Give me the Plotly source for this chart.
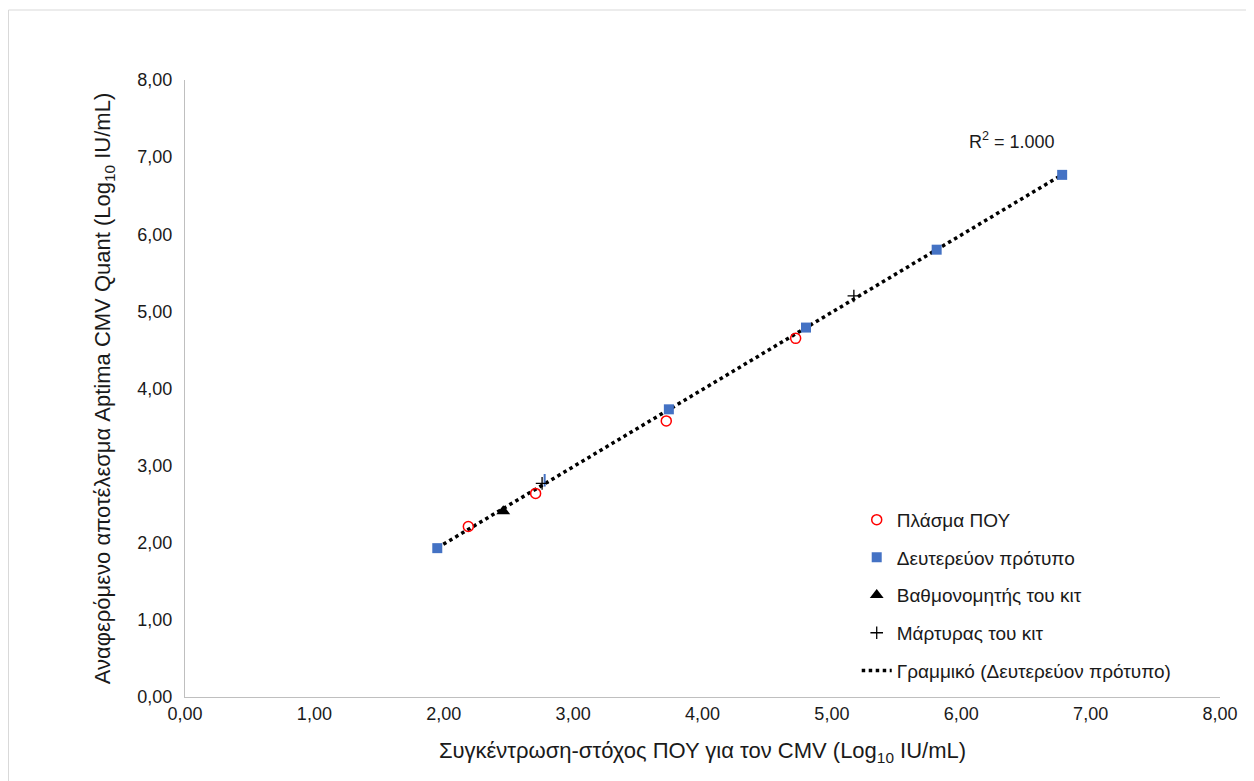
import numpy as np
import plotly.graph_objects as go

# Data
plasma_x = [2.19, 2.71, 3.72, 4.72]
plasma_y = [2.21, 2.64, 3.58, 4.65]

secondary_x = [1.95, 3.74, 4.80, 5.81, 6.78]
secondary_y = [1.93, 3.73, 4.79, 5.80, 6.77]

calibrator_x = [2.46]
calibrator_y = [2.41]

control_x = [2.76, 5.17]
control_y = [2.77, 5.20]

extra_blue_x = [2.78]
extra_blue_y = [2.81]

x_ticks = [0, 1, 2, 3, 4, 5, 6, 7, 8]
tick_labels = ["0,00", "1,00", "2,00", "3,00", "4,00", "5,00", "6,00", "7,00", "8,00"]

# Linear fit of secondary standard
slope, intercept = np.polyfit(secondary_x, secondary_y, 1)
fit_x = [min(secondary_x), max(secondary_x)]
fit_y = [slope * v + intercept for v in fit_x]

font_family = "Liberation Sans, Arial, sans-serif"
txt = "#1a1a1a"

fig = go.Figure()

fig.add_trace(go.Scatter(
    x=fit_x, y=fit_y, mode="lines",
    line=dict(color="black", width=3.5, dash="dot"),
    name="Γραμμικό (Δευτερεύον πρότυπο)", legendgroup="e", legendrank=5,
))
fig.add_trace(go.Scatter(
    x=extra_blue_x, y=extra_blue_y, mode="markers",
    marker=dict(symbol="line-ns", size=9, line=dict(color="#4472C4", width=2)),
    showlegend=False, hoverinfo="skip",
))
fig.add_trace(go.Scatter(
    x=secondary_x, y=secondary_y, mode="markers",
    marker=dict(symbol="square", size=10, color="#4472C4"),
    name="Δευτερεύον πρότυπο", legendgroup="b", legendrank=2,
))
fig.add_trace(go.Scatter(
    x=plasma_x, y=plasma_y, mode="markers",
    marker=dict(symbol="circle-open", size=10, color="#FF0000", line=dict(width=1.5)),
    name="Πλάσμα ΠΟΥ", legendgroup="a", legendrank=1,
))
fig.add_trace(go.Scatter(
    x=calibrator_x, y=calibrator_y, mode="markers",
    marker=dict(symbol="triangle-up", size=12, color="black"),
    name="Βαθμονομητής του κιτ", legendgroup="c", legendrank=3,
))
fig.add_trace(go.Scatter(
    x=control_x, y=control_y, mode="markers",
    marker=dict(symbol="cross-thin", size=9, line=dict(color="black", width=1.3)),
    name="Μάρτυρας του κιτ", legendgroup="d", legendrank=4,
))

axis_common = dict(
    range=[0, 8], tickvals=x_ticks, ticktext=tick_labels,
    showgrid=False, zeroline=False, showline=True,
    linecolor="#BFBFBF", linewidth=1, ticks="",
    tickfont=dict(family=font_family, size=18, color=txt),
)

# page body has an 8px default margin: compensate so plot area sits at x 185-1220, y 80-697
fig.update_layout(
    width=1246, height=773,
    paper_bgcolor="white", plot_bgcolor="white",
    margin=dict(l=177, r=34, t=72, b=84),
    font=dict(family=font_family, size=18, color=txt),
    xaxis=dict(
        **axis_common,
        title=dict(text="Συγκέντρωση-στόχος ΠΟΥ για τον CMV (Log<sub>10</sub> IU/mL)",
                   font=dict(size=22, family=font_family, color=txt), standoff=20),
    ),
    yaxis=dict(
        **axis_common,
        ticklabelstandoff=8,
        title=dict(text="Αναφερόμενο αποτέλεσμα Aptima CMV Quant (Log<sub>10</sub> IU/mL)",
                   font=dict(size=22, family=font_family, color=txt), standoff=20),
    ),
    legend=dict(
        x=0.649, y=0.318, xanchor="left", yanchor="top",
        traceorder="grouped", tracegroupgap=10,
        font=dict(size=19, family=font_family, color=txt),
        bgcolor="rgba(0,0,0,0)",
    ),
    showlegend=True,
    annotations=[dict(
        x=6.39, y=7.21, xref="x", yref="y", text="R<sup>2</sup> = 1.000",
        showarrow=False, xanchor="center", font=dict(size=18, family=font_family, color=txt),
    )],
    shapes=[dict(
        type="rect", xref="paper", yref="paper",
        x0=(8.5 - 185) / 1035, x1=(1262 - 185) / 1035,
        y0=(697 - 792) / 617, y1=(697 - 10) / 617,
        line=dict(color="#D9D9D9", width=1), layer="below",
    )],
)

fig.write_html("out.html")
